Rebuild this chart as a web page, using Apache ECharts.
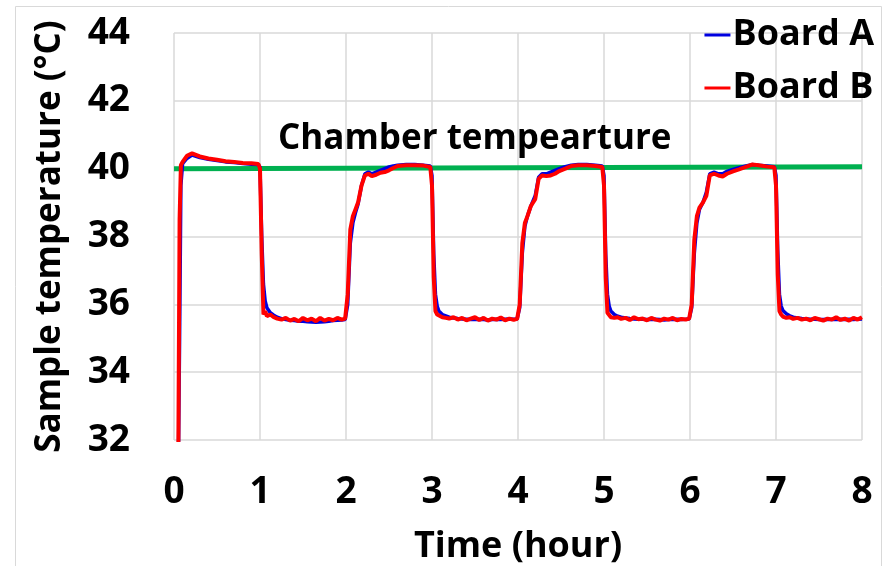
<!DOCTYPE html>
<html>
<head>
<meta charset="utf-8">
<script src="https://cdn.jsdelivr.net/npm/echarts@6/dist/echarts.min.js"></script>
<style>
  html, body { margin: 0; padding: 0; background: #fff; }
  #chart { width: 889px; height: 566px; }
</style>
</head>
<body>
<div id="chart"></div>
<script>
// time in hours, shared by both boards
const hours = [
  0.05, 0.065, 0.08, 0.1, 0.15, 0.21, 0.3, 0.4, 0.5, 0.6, 0.7, 0.8, 0.9, 0.98,
  1.0, 1.02, 1.04, 1.06, 1.08, 1.12, 1.16, 1.2, 1.25, 1.3, 1.35, 1.4, 1.45, 1.5, 1.55, 1.6, 1.65, 1.7, 1.75, 1.8, 1.85, 1.9, 1.95, 1.99,
  2.02, 2.05, 2.08, 2.11, 2.14, 2.18, 2.22, 2.26, 2.3, 2.35, 2.4, 2.45, 2.5, 2.55, 2.6, 2.7, 2.8, 2.9, 2.98,
  3.0, 3.02, 3.04, 3.06, 3.08, 3.12, 3.16, 3.2, 3.25, 3.3, 3.35, 3.4, 3.45, 3.5, 3.55, 3.6, 3.65, 3.7, 3.75, 3.8, 3.85, 3.9, 3.95, 3.99,
  4.02, 4.05, 4.08, 4.11, 4.15, 4.2, 4.24, 4.28, 4.33, 4.38, 4.43, 4.48, 4.55, 4.62, 4.7, 4.8, 4.9, 4.98,
  5.0, 5.02, 5.04, 5.06, 5.08, 5.12, 5.16, 5.2, 5.25, 5.3, 5.35, 5.4, 5.45, 5.5, 5.55, 5.6, 5.65, 5.7, 5.75, 5.8, 5.85, 5.9, 5.95, 5.99,
  6.02, 6.05, 6.08, 6.11, 6.15, 6.19, 6.23, 6.28, 6.33, 6.38, 6.43, 6.5, 6.57, 6.65, 6.72, 6.8, 6.9, 6.98,
  7.0, 7.02, 7.04, 7.06, 7.08, 7.12, 7.16, 7.2, 7.25, 7.3, 7.35, 7.4, 7.45, 7.5, 7.55, 7.6, 7.65, 7.7, 7.75, 7.8, 7.85, 7.9, 7.95, 8.0
]

const boardA = [
  31.0, 35.0, 39.5, 40.15, 40.3, 40.4, 40.33, 40.28, 40.24, 40.2, 40.18, 40.15, 40.13, 40.12,
  40.05, 38.0, 36.6, 36.1, 35.9, 35.75, 35.68, 35.62, 35.58, 35.55, 35.53, 35.52, 35.5, 35.5, 35.49, 35.48, 35.47, 35.48, 35.49, 35.5, 35.52, 35.53, 35.54, 35.55,
  36.0, 37.8, 38.4, 38.7, 38.95, 39.5, 39.85, 39.9, 39.85, 39.9, 39.95, 40.0, 40.05, 40.08, 40.1, 40.12, 40.12, 40.1, 40.08,
  39.8, 37.5, 36.3, 35.95, 35.8, 35.7, 35.66, 35.62, 35.6, 35.58, 35.57, 35.56, 35.55, 35.55, 35.56, 35.55, 35.54, 35.55, 35.56, 35.55, 35.56, 35.57, 35.56, 35.57,
  35.9, 37.5, 38.3, 38.6, 38.9, 39.2, 39.75, 39.85, 39.85, 39.9, 39.95, 40.0, 40.06, 40.1, 40.12, 40.12, 40.1, 40.08,
  39.8, 37.5, 36.3, 35.95, 35.8, 35.7, 35.65, 35.62, 35.6, 35.58, 35.57, 35.56, 35.56, 35.55, 35.55, 35.56, 35.55, 35.54, 35.55, 35.55, 35.56, 35.55, 35.56, 35.57,
  35.9, 37.5, 38.4, 38.8, 39.0, 39.3, 39.85, 39.9, 39.85, 39.85, 39.92, 39.98, 40.03, 40.08, 40.12, 40.1, 40.08, 40.06,
  39.8, 37.6, 36.3, 35.95, 35.82, 35.72, 35.66, 35.62, 35.6, 35.58, 35.57, 35.56, 35.56, 35.55, 35.55, 35.56, 35.55, 35.55, 35.56, 35.55, 35.56, 35.55, 35.56, 35.57
]

const boardB = [
  31.5, 38.5, 40.1, 40.2, 40.38, 40.45, 40.36, 40.3, 40.26, 40.22, 40.2, 40.17, 40.16, 40.14,
  40.0, 37.5, 35.7, 35.8, 35.65, 35.7, 35.62, 35.58, 35.55, 35.6, 35.52, 35.57, 35.5, 35.6, 35.53, 35.58, 35.5, 35.6, 35.52, 35.57, 35.53, 35.6, 35.55, 35.58,
  36.3, 38.2, 38.6, 38.8, 39.0, 39.5, 39.8, 39.85, 39.78, 39.82, 39.88, 39.9, 39.95, 40.02, 40.08, 40.1, 40.1, 40.09, 40.05,
  39.5, 36.8, 35.8, 35.7, 35.65, 35.62, 35.6, 35.58, 35.62, 35.55, 35.6, 35.53, 35.58, 35.62, 35.54, 35.6, 35.52, 35.58, 35.55, 35.61, 35.53, 35.58, 35.54, 35.57,
  36.0, 37.8, 38.4, 38.6, 38.9, 39.1, 39.7, 39.8, 39.78, 39.8, 39.85, 39.93, 40.0, 40.08, 40.1, 40.1, 40.08, 40.05,
  39.5, 36.8, 35.75, 35.7, 35.62, 35.6, 35.62, 35.57, 35.6, 35.54, 35.62, 35.56, 35.58, 35.53, 35.6, 35.55, 35.52, 35.58, 35.55, 35.6, 35.53, 35.57, 35.55, 35.58,
  36.0, 37.9, 38.6, 38.85, 39.0, 39.2, 39.8, 39.85, 39.8, 39.77, 39.85, 39.92, 39.98, 40.05, 40.12, 40.1, 40.06, 40.04,
  39.5, 36.9, 35.8, 35.7, 35.64, 35.6, 35.62, 35.57, 35.6, 35.55, 35.58, 35.53, 35.6, 35.56, 35.52, 35.58, 35.55, 35.62, 35.54, 35.58, 35.52, 35.6, 35.55, 35.62
]

const chamberHours = [0, 8]
const chamberTemp = [40.0, 40.06]

const xTicks = [0, 1, 2, 3, 4, 5, 6, 7, 8]
const yTicks = [32, 34, 36, 38, 40, 42, 44]

const font = '"Open Sans", Lato, sans-serif'
const bold = (size) => ({ fontFamily: font, fontWeight: 'bold', fontSize: size, color: '#000' })
const pair = (xs, ys) => xs.map((x, i) => [x, ys[i]])

const chart = echarts.init(document.getElementById('chart'))

chart.setOption({
  animation: false,
  textStyle: { fontFamily: font },
  graphic: [{
    type: 'rect',
    shape: { x: 15.5, y: 6.5, width: 866, height: 580 },
    style: { fill: 'none', stroke: '#d9d9d9', lineWidth: 1 },
    silent: true
  }],
  title: {
    text: 'Chamber tempearture',
    left: 273, top: 117,
    textStyle: bold(35)
  },
  legend: {
    orient: 'vertical',
    right: 10, top: 12,
    itemWidth: 26, itemHeight: 3, itemGap: 17,
    icon: 'rect',
    textStyle: Object.assign({ padding: [0, 0, 0, -3] }, bold(36)),
    data: ['Board A', 'Board B']
  },
  grid: { left: 174, right: 27, top: 33, bottom: 126, outerBoundsMode: 'none' },
  xAxis: {
    type: 'value',
    min: xTicks[0], max: xTicks[xTicks.length - 1], interval: 1,
    name: 'Time (hour)', nameLocation: 'middle', nameGap: 89,
    nameTextStyle: bold(36),
    axisLine: { show: false }, axisTick: { show: false },
    axisLabel: Object.assign({ margin: 34 }, bold(37)),
    splitLine: { lineStyle: { color: '#d9d9d9', width: 1.5 } }
  },
  yAxis: {
    type: 'value',
    min: yTicks[0], max: yTicks[yTicks.length - 1], interval: 2,
    name: 'Sample temperature (°C)', nameLocation: 'middle', nameGap: 106, nameRotate: 90,
    nameTextStyle: bold(35),
    axisLine: { show: false }, axisTick: { show: false },
    axisLabel: Object.assign({ margin: 44 }, bold(37)),
    splitLine: { lineStyle: { color: '#d9d9d9', width: 1.5 } }
  },
  series: [
    {
      name: 'Chamber', type: 'line', showSymbol: false, clip: true,
      data: pair(chamberHours, chamberTemp),
      lineStyle: { color: '#00b050', width: 5 }, itemStyle: { color: '#00b050' }, z: 1
    },
    {
      name: 'Board A', type: 'line', showSymbol: false, clip: true,
      data: pair(hours, boardA),
      lineStyle: { color: '#0000e0', width: 3.5 }, itemStyle: { color: '#0000e0' }, z: 2
    },
    {
      name: 'Board B', type: 'line', showSymbol: false, clip: true,
      data: pair(hours, boardB),
      lineStyle: { color: '#ff0000', width: 4 }, itemStyle: { color: '#ff0000' }, z: 3
    }
  ]
})
</script>
</body>
</html>
